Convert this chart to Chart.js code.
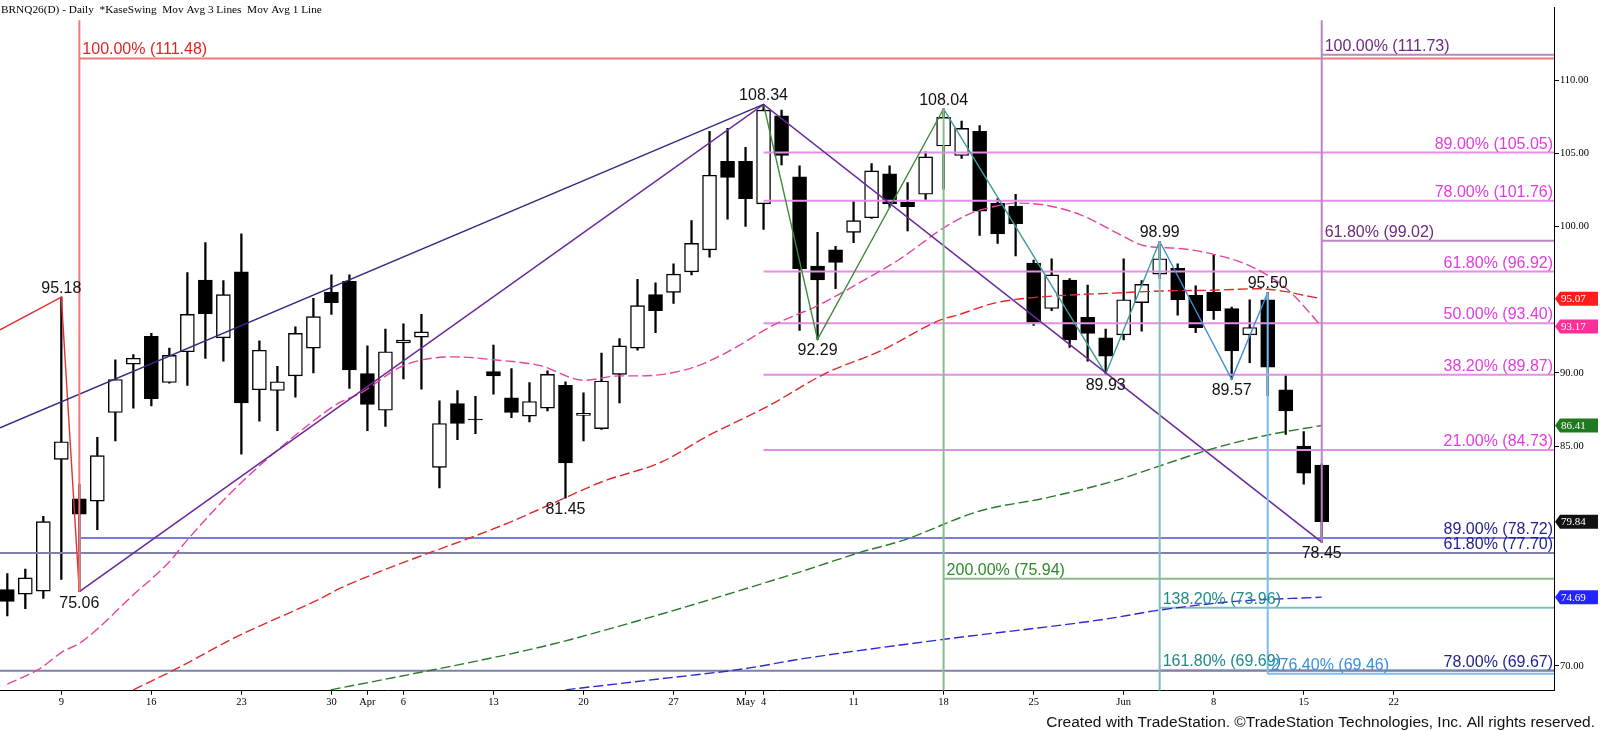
<!DOCTYPE html>
<html>
<head>
<meta charset="utf-8">
<title>BRNQ26(D) - Daily</title>
<script src="https://cdn.jsdelivr.net/npm/chart.js@4.4.1/dist/chart.umd.min.js"></script>
<style>
html,body{margin:0;padding:0;background:#ffffff;overflow:hidden;}
#wrap{position:relative;width:1600px;height:731px;}
canvas{display:block;}
</style>
</head>
<body>
<div id="wrap"><canvas id="chart" width="1600" height="731"></canvas></div>
<script>
// ---------- categories (trading days, index 0..73) ----------
const dates = ["Mar 4","Mar 5","Mar 6","Mar 9","Mar 10","Mar 11","Mar 12","Mar 13",
"Mar 16","Mar 17","Mar 18","Mar 19","Mar 20","Mar 23","Mar 24","Mar 25","Mar 26","Mar 27",
"Mar 30","Mar 31","Apr 1","Apr 2","Apr 6","Apr 7","Apr 8","Apr 9","Apr 10",
"Apr 13","Apr 14","Apr 15","Apr 16","Apr 17","Apr 20","Apr 21","Apr 22","Apr 23","Apr 24",
"Apr 27","Apr 28","Apr 29","Apr 30","May 1","May 4","May 5","May 6","May 7","May 8",
"May 11","May 12","May 13","May 14","May 15","May 18","May 19","May 20","May 21","May 22",
"May 25","May 26","May 27","May 28","May 29","Jun 1","Jun 2","Jun 3","Jun 4","Jun 5",
"Jun 8","Jun 9","Jun 10","Jun 11","Jun 12","Jun 15","Jun 16"];

// ---------- x-axis tick labels (index of trading day, text) ----------
const tickIdx  = [3,8,13,18,20,22,27,32,37,41,42,47,52,57,62,67,72,77];
const tickText = ["9","16","23","30","Apr","6","13","20","27","May","4","11","18","25","Jun","8","15","22"];

// ---------- price series (OHLC) ----------
const openP  = [75.2,74.9,75.1,84.1,81.4,81.25,87.3,90.6,92.5,89.35,91.45,96.35,92.4,96.9,88.85,88.8,89.8,91.7,
95.5,96.25,89.95,87.45,92.05,92.45,83.55,87.9,86.85,90.1,88.3,87.05,87.6,89.15,87.1,86.2,89.9,91.7,95.35,
95.5,96.9,98.4,104.45,104.45,101.55,107.55,103.4,97.3,98.4,99.6,100.6,103.6,101.65,102.2,105.5,104.85,106.5,
101.6,101.4,97.5,94.4,96.35,93.8,92.4,92.6,94.8,96.75,97.15,95.3,95.5,94.4,92.6,95.0,88.85,85.0,83.7];
const highP  = [76.3,76.6,80.2,95.18,82.4,85.6,90.9,91.25,92.7,91.7,96.85,98.9,96.3,99.5,92.2,90.45,93.15,95.1,
96.7,96.7,91.85,93.0,93.35,94.0,88.1,88.8,88.4,91.9,90.3,89.35,90.15,89.4,88.65,91.35,92.35,96.4,96.15,
97.45,100.4,106.5,106.7,105.4,108.34,107.95,104.15,99.6,98.65,101.75,104.3,104.15,103.0,105.1,108.04,107.2,106.9,
101.9,102.2,97.7,97.8,96.45,96.0,93.0,97.8,96.3,98.99,97.45,95.95,98.05,94.5,95.0,95.50,89.9,86.0,83.8];
const lowP   = [73.4,73.9,74.6,75.9,75.06,79.3,85.35,87.6,87.75,89.3,89.15,91.0,90.8,84.45,86.7,86.05,88.35,90.0,
94.0,88.95,86.05,86.35,89.6,88.9,82.15,85.45,85.85,88.55,86.95,86.65,87.4,81.45,85.35,86.15,87.95,91.55,92.75,
94.75,96.7,97.9,100.5,100.0,99.8,104.2,92.9,92.29,95.75,98.9,100.55,101.3,99.7,101.85,102.55,104.65,99.4,
98.85,98.0,93.25,94.25,91.75,90.8,89.93,92.25,92.85,96.45,93.95,92.75,93.65,89.57,90.7,88.45,85.8,82.4,78.45];
const closeP = [74.4,76.0,79.85,85.3,80.35,84.35,89.55,91.0,88.25,91.2,94.0,94.05,95.35,87.95,91.55,89.4,92.7,93.85,
94.8,90.2,87.85,91.45,92.25,92.8,86.55,86.55,86.8,89.8,87.3,88.05,89.9,83.85,87.25,89.45,91.85,94.6,94.25,
96.75,98.85,103.5,103.35,101.9,107.95,104.85,97.1,96.35,97.55,100.4,103.8,101.55,101.35,104.75,107.45,106.7,101.05,
99.5,100.2,93.45,96.7,92.25,92.7,91.15,95.0,96.05,97.8,95.0,93.1,94.25,91.5,93.1,90.4,87.4,83.15,79.84];

// ---------- moving averages (trading-day index, value) ----------
const maPinkX  = [0,1,1.8,3,4.2,7,9,10,12.9,17.4,18.5,19.6,22,24.8,27,29.6,32,34,35.2,37.9,39.8,42.6,45,48.1,49.6,52,53.5,54.6,56,57.7,59.6,61.8,63.1,65.1,67,69.2,71.1,73];
const maPinkY  = [68.75,69.3,69.8,70.9,71.7,74.85,77.1,78.6,82.4,87.1,88.0,88.6,90.5,91.1,90.9,90.5,89.5,89.8,89.8,90.3,91.3,93.3,94.6,96.7,97.8,99.9,100.9,101.3,101.6,101.45,100.8,99.45,98.7,98.5,98.1,97.2,95.7,93.17];
const maRedX   = [7.0,9.4,12.6,17.4,18.5,27.9,30.3,33.1,36.3,38.9,42.2,45.5,48.5,51.8,52.9,54.6,55.9,58.7,61.4,64.2,67,69.5,71,72,73];
const maRedY   = [68.36,69.8,71.9,74.6,75.3,79.8,81.1,82.6,83.9,85.7,87.7,90.0,91.5,93.6,94.0,94.7,95.0,95.3,95.45,95.6,95.65,95.75,95.55,95.3,95.07];
const maGreenX = [17.96,22.3,27.9,31.3,44.0,47.4,49.7,54.0,57.7,61.4,64.2,67.0,70.0,73];
const maGreenY = [68.36,69.4,70.8,71.8,76.4,77.76,78.55,80.57,81.47,82.6,83.73,84.85,85.76,86.41];
const maBlueX  = [31.0,36.4,41.0,44.0,51.9,61.0,63.8,68.0,73];
const maBlueY  = [68.36,69.13,69.81,70.45,71.79,73.19,73.77,74.38,74.69];

// ---------- swings / trendlines (index, price) ----------
const redSwingX    = [-0.406,3,4];     const redSwingY    = [92.94,95.18,75.06];
const navyTrendX   = [-0.406,42];      const navyTrendY   = [86.25,108.34];
const purpleTrendX = [4,42,73];        const purpleTrendY = [75.06,108.34,78.45];
const greenSwingX  = [42,45,52];       const greenSwingY  = [108.34,92.29,108.04];
const tealSwingX   = [52,61,64];       const tealSwingY   = [108.04,89.93,98.99];
const blueSwingX   = [64,68,70];       const blueSwingY   = [98.99,89.57,95.50];

// swing price labels
const swingIdx = [3,4,31,42,45,52,61,64,68,70,73];
const swingVal = [95.18,75.06,81.45,108.34,92.29,108.04,89.93,98.99,89.57,95.50,78.45];

// ---------- fibonacci levels (per tool: anchor index, percentages, prices) ----------
const redFibFrom = 4;     const redFibPct = ["100.00%"];                 const redFibVal = [111.48];
const purFibFrom = 73;    const purFibPct = ["100.00%","61.80%"];        const purFibVal = [111.73,99.02];
const magFibFrom = 42;    const magFibPct = ["89.00%","78.00%","61.80%","50.00%","38.20%","21.00%"];
                          const magFibVal = [105.05,101.76,96.92,93.40,89.87,84.73];
const navFibFrom = [4,null,null]; const navFibPct = ["89.00%","61.80%","78.00%"]; const navFibVal = [78.72,77.70,69.67];
const grnFibFrom = 52;    const grnFibPct = ["200.00%"];                 const grnFibVal = [75.94];
const tealFibFrom = 64;   const tealFibPct = ["138.20%","161.80%"];      const tealFibVal = [73.96,69.69];
const lbFibFrom = 70;     const lbFibPct = ["276.40%"];                  const lbFibVal = [69.46];

// vertical anchor lines: index, lower price (null = axis bottom), upper price (null = top of tool)
const vertIdx  = [4,73,52,64,70];
const vertLow  = [75.06,78.45,null,null,69.46];
const vertHigh = [null,null,108.04,98.99,95.50];

// right-axis value markers (last values)
const boxVal = [95.07,93.17,86.41,79.84,74.69];

// right-axis ticks
const yTicks = [70,85,90,100,105,110];

// ---------- rendering ----------
const SANS  = "'Liberation Sans', Arial, sans-serif";
const SERIF = "'Liberation Serif', 'Times New Roman', serif";
const X_MIN = -0.406, X_MAX = 85.9, Y_MIN = 68.3, Y_MAX = 114.97;

const pts = (xs, ys) => xs.map((v, i) => ({x: v, y: ys[i]}));
const lineDS = (data, color, width, extra) => Object.assign({
  type: 'line', data, borderColor: color, borderWidth: width, pointRadius: 0,
  fill: false, tension: 0, order: 1
}, extra || {});

const datasets = [];
// candles: wicks and bodies as floating bars
datasets.push({
  type: 'bar', order: 20, grouped: false, barThickness: 1.6,
  data: dates.map((d, i) => ({x: i, y: [lowP[i], highP[i]]})),
  backgroundColor: '#000', borderWidth: 0
});
datasets.push({
  type: 'bar', order: 19, grouped: false, barThickness: 14,
  data: dates.map((d, i) => ({x: i, y: [Math.min(openP[i], closeP[i]), Math.max(openP[i], closeP[i])]})),
  backgroundColor: dates.map((d, i) => closeP[i] >= openP[i] ? '#ffffff' : '#000000'),
  borderColor: '#000', borderWidth: 1.4, borderSkipped: false
});

// fib tools
const fibTools = [
  {from: [redFibFrom], pct: redFibPct, val: redFibVal, line: '#f07a7a', text: '#e02424', align: 'left'},
  {from: [purFibFrom], pct: purFibPct, val: purFibVal, line: '#b887c0', text: '#6c2a7e', align: 'left'},
  {from: [magFibFrom], pct: magFibPct, val: magFibVal, line: '#e48fe4', text: '#e23ce2', align: 'right'},
  {from: navFibFrom, pct: navFibPct, val: navFibVal, line: ['#7a7ae8','#8080a8','#8080a8'], text: '#1e1e90', align: 'right'},
  {from: [grnFibFrom], pct: grnFibPct, val: grnFibVal, line: '#88bd88', text: '#2c8a2c', align: 'left'},
  {from: [tealFibFrom], pct: tealFibPct, val: tealFibVal, line: '#80bcbc', text: '#1d8a8a', align: 'left'},
  {from: [lbFibFrom], pct: lbFibPct, val: lbFibVal, line: '#7cbaf0', text: '#3a8fe0', align: 'left'}
];
fibTools.forEach(t => {
  t.val.forEach((v, i) => {
    const f = t.from.length > 1 ? t.from[i] : t.from[0];
    const c = Array.isArray(t.line) ? t.line[i] : t.line;
    datasets.push(lineDS([{x: f === null ? X_MIN : f, y: v}, {x: X_MAX, y: v}], c, 2, {order: 3}));
  });
});

// moving averages
const dash = [10, 4];
datasets.push(lineDS(pts(maBlueX, maBlueY), '#2a2ad2', 1.4, {borderDash: dash, cubicInterpolationMode: 'monotone', order: 2}));
datasets.push(lineDS(pts(maGreenX, maGreenY), '#2b7a2b', 1.4, {borderDash: dash, cubicInterpolationMode: 'monotone', order: 2}));
datasets.push(lineDS(pts(maRedX, maRedY), '#e02a2a', 1.4, {borderDash: dash, cubicInterpolationMode: 'monotone', order: 2}));
datasets.push(lineDS(pts(maPinkX, maPinkY), '#e6449c', 1.4, {borderDash: dash, cubicInterpolationMode: 'monotone', order: 2}));

// swings and trendlines
datasets.push(lineDS(pts(navyTrendX, navyTrendY), '#2d2d80', 1.4));
datasets.push(lineDS(pts(purpleTrendX, purpleTrendY), '#6a2a9c', 1.6));
datasets.push(lineDS(pts(redSwingX, redSwingY), '#e03232', 1.4));
datasets.push(lineDS(pts(greenSwingX, greenSwingY), '#3a8a3a', 1.4));
datasets.push(lineDS(pts(tealSwingX, tealSwingY), '#3e9c9c', 1.4));
datasets.push(lineDS(pts(blueSwingX, blueSwingY), '#3c8edc', 1.4));

const vertColors = ['#f07a7a','#b887c0','#88bd88','#80bcbc','#7cbaf0'];
const boxColors  = ['#ff1c1c','#ff2f98','#1f7a1f','#111111','#2323ff'];

const overlay = {
  id: 'overlay',
  afterDatasetsDraw(chart) {
    const {ctx, chartArea: ca, scales: {x, y}} = chart;
    ctx.save();
    ctx.beginPath(); ctx.rect(ca.left, ca.top, ca.right - ca.left, ca.bottom - ca.top); ctx.clip();
    // vertical anchor lines
    vertIdx.forEach((vi, i) => {
      const px = x.getPixelForValue(vi);
      const y1 = vertLow[i] === null ? ca.bottom : y.getPixelForValue(vertLow[i]);
      const y0 = vertHigh[i] === null ? ca.top + 13 : y.getPixelForValue(vertHigh[i]);
      ctx.strokeStyle = vertColors[i]; ctx.lineWidth = 2;
      ctx.beginPath(); ctx.moveTo(px, y0); ctx.lineTo(px, y1); ctx.stroke();
    });
    // fib labels
    ctx.font = '16px ' + SANS; ctx.textBaseline = 'alphabetic';
    fibTools.forEach(t => {
      t.val.forEach((v, i) => {
        const f = t.from.length > 1 ? t.from[i] : t.from[0];
        const txt = t.pct[i] + ' (' + v.toFixed(2) + ')';
        const py = y.getPixelForValue(v) - 4;
        ctx.fillStyle = t.text;
        if (t.align === 'right') { ctx.textAlign = 'right'; ctx.fillText(txt, ca.right - 1, py); }
        else { ctx.textAlign = 'left'; ctx.fillText(txt, x.getPixelForValue(f) + 3, py); }
      });
    });
    // swing labels
    ctx.fillStyle = '#111'; ctx.textAlign = 'center';
    swingIdx.forEach((si, i) => {
      const v = swingVal[i];
      const px = x.getPixelForValue(si);
      const above = Math.abs(highP[si] - v) < 1e-6;
      const py = y.getPixelForValue(v) + (above ? -4 : 16);
      ctx.fillText(v.toFixed(2), px, py);
    });
    ctx.restore();
  },
  afterDraw(chart) {
    const {ctx, chartArea: ca, scales: {y}} = chart;
    ctx.save();
    // right axis value boxes
    ctx.font = '11px ' + SERIF; ctx.textBaseline = 'middle'; ctx.textAlign = 'left';
    boxVal.forEach((v, i) => {
      const py = y.getPixelForValue(v);
      const x0 = ca.right + 1, x1 = 1598, h = 7;
      ctx.fillStyle = boxColors[i];
      ctx.beginPath();
      ctx.moveTo(x0, py); ctx.lineTo(x0 + 5, py - h); ctx.lineTo(x1, py - h);
      ctx.lineTo(x1, py + h); ctx.lineTo(x0 + 5, py + h); ctx.closePath(); ctx.fill();
      ctx.fillStyle = '#ffffff';
      ctx.fillText(v.toFixed(2), x0 + 6, py + 0.5);
    });
    // header
    ctx.fillStyle = '#000'; ctx.font = '11.3px ' + SERIF; ctx.textBaseline = 'alphabetic'; ctx.textAlign = 'left';
    ctx.fillText('BRNQ26(D) - Daily  *KaseSwing  Mov Avg 3 Lines  Mov Avg 1 Line', 1, 12.5);
    // credit
    ctx.font = '15.5px ' + SANS; ctx.textAlign = 'right'; ctx.fillStyle = '#111';
    ctx.fillText('Created with TradeStation. \u00A9TradeStation Technologies, Inc. All rights reserved.', 1595, 727);
    ctx.restore();
  }
};

new Chart(document.getElementById('chart'), {
  type: 'bar',
  data: {datasets},
  options: {
    responsive: false, animation: false, devicePixelRatio: 1,
    layout: {padding: 0},
    plugins: {legend: {display: false}, tooltip: {enabled: false}, title: {display: false}},
    scales: {
      x: {
        type: 'linear', min: X_MIN, max: X_MAX, offset: false,
        afterBuildTicks: s => { s.ticks = tickIdx.map(v => ({value: v})); },
        afterFit: s => { s.height = 40.3; },
        ticks: {autoSkip: false, maxRotation: 0, padding: 1, color: '#000',
                font: {family: SERIF, size: 10.5},
                callback: (v, i) => tickText[i]},
        grid: {drawOnChartArea: false, drawTicks: true, tickLength: 4, color: '#000', offset: false},
        border: {display: true, color: '#000', width: 1}
      },
      y: {
        type: 'linear', position: 'right', min: Y_MIN, max: Y_MAX,
        afterBuildTicks: s => { s.ticks = yTicks.map(v => ({value: v})); },
        afterFit: s => { s.width = 46; },
        ticks: {autoSkip: false, padding: 1, color: '#000', font: {family: SERIF, size: 10.5},
                callback: v => Number(v).toFixed(2)},
        grid: {drawOnChartArea: false, drawTicks: true, tickLength: 5, color: '#000'},
        border: {display: true, color: '#000', width: 1}
      }
    }
  },
  plugins: [overlay]
});
</script>
</body>
</html>
